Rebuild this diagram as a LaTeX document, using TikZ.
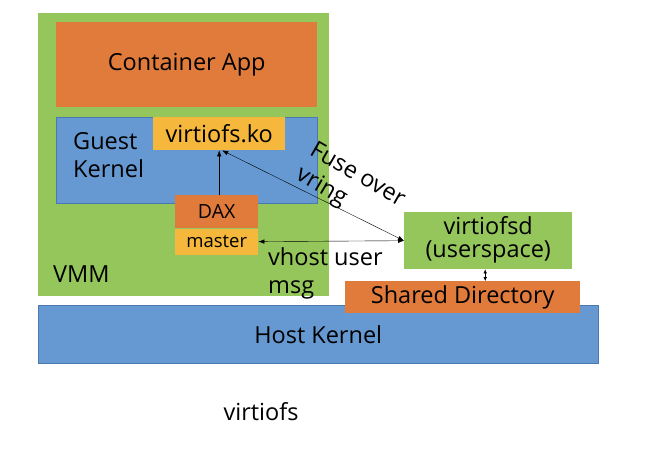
\documentclass[tikz,border=0pt]{standalone}
\usepackage{fontspec}
\setmainfont{Open Sans}
\usepackage{tikz}
\usetikzlibrary{arrows.meta, positioning}
\definecolor{vmmcolor}{HTML}{95C65B}
\definecolor{appcolor}{HTML}{E07B3C}
\definecolor{kernelcolor}{HTML}{6699D2}
\definecolor{kerneldraw}{HTML}{4A78B0}
\definecolor{modcolor}{HTML}{F5B83C}

\begin{document}
\begin{tikzpicture}[
  x=1pt, y=-1pt,
  node distance=0pt,
  box/.style={rectangle, inner sep=0pt, anchor=north west,
              text centered, font=\fontsize{23.5}{27}\selectfont},
  lbl/.style={inner sep=0pt, align=left, font=\fontsize{23.5}{28}\selectfont},
  arrow/.style={-{Latex[length=6pt,width=4.5pt]}, thin},
  biarrow/.style={{Latex[length=6pt,width=4.5pt]}-{Latex[length=6pt,width=4.5pt]}, thin},
]
\useasboundingbox (0,0) rectangle (650,448);

\node[box, fill=vmmcolor, minimum width=291, minimum height=283] (VMM) at (38,13) {};
\node[box, fill=appcolor, minimum width=261, minimum height=85] (App) at (56,22) {Container App};
\node[box, fill=kernelcolor, draw=kerneldraw, minimum width=261, minimum height=86,
      below=10pt of App.south west, anchor=north west] (GK) {};
\node[lbl, anchor=west] (GKtext) at (73,155) {Guest\\Kernel};
\node[box, fill=modcolor, minimum width=132, minimum height=33] (KO) at (153,117) {virtiofs.ko};
\node[box, fill=appcolor, minimum width=83, minimum height=33,
      font=\fontsize{19.5}{22}\selectfont] (DAX) at (175,195) {DAX};
\node[box, fill=modcolor, minimum width=83, minimum height=26,
      font=\fontsize{18.5}{20}\selectfont, below=0pt of DAX.south west, anchor=north west] (Master) {master};
\node[lbl, anchor=base west] (VMMtext) at (53,282) {VMM};

\node[box, fill=vmmcolor, minimum width=168, minimum height=57] (FSD) at (404,212)
     {\begin{tabular}{@{}c@{}}virtiofsd\\[-4pt](userspace)\end{tabular}};
\node[box, fill=kernelcolor, draw=kerneldraw, minimum width=560, minimum height=58] (HK) at (38,305) {Host Kernel};
\node[box, fill=appcolor, minimum width=235, minimum height=32] (SD) at (345,281) {Shared Directory};

\node[lbl, rotate=-30] (Fuse) at (350,188) {Fuse over\\vring};
\node[lbl, anchor=base west] (Vhost) at (268,293) {vhost user\\msg};
\node[lbl] (Caption) at (261,412) {virtiofs};

\draw[arrow] (DAX.north -| KO.south) -- (KO.south);
\draw[biarrow] ([xshift=3pt]KO.south) -- (FSD.west);
\draw[biarrow] (Master.east) -- (FSD.west);
\draw[{Latex[length=4pt,width=3.5pt]}-{Latex[length=4pt,width=3.5pt]}, thin]
     ([xshift=-3pt]FSD.south) -- ([xshift=-3pt]FSD.south |- SD.north);
\end{tikzpicture}
\end{document}
